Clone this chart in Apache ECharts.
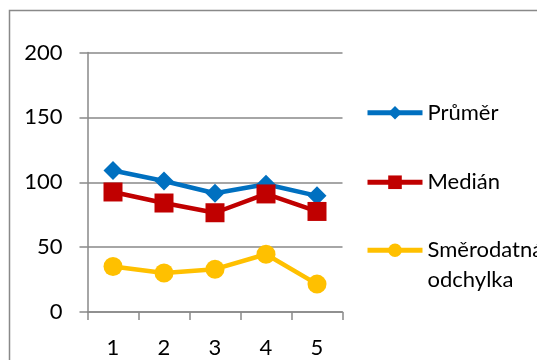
<!DOCTYPE html>
<html>
<head>
<meta charset="utf-8">
<script src="https://cdn.jsdelivr.net/npm/echarts@6/dist/echarts.min.js"></script>
<style>
  html, body { margin: 0; padding: 0; background: #fff; }
  #chart { width: 537px; height: 360px; }
</style>
</head>
<body>
<div id="chart"></div>
<script>
// Categories and series values
const categories = ['1', '2', '3', '4', '5'];
const prumer = [109, 101, 91.5, 98.5, 89.5];
const median = [92.5, 84, 76.5, 91, 77.5];
const smerodatna = [35, 30, 33, 44.5, 21.5];
const seriesNames = ['Průměr', 'Medián', 'Směrodatná odchylka'];

const FONT = 'Lato, "Open Sans", sans-serif';
const GRAY = '#898989';

const chart = echarts.init(document.getElementById('chart'), null, { renderer: 'canvas' });

function lineSeries(name, data, color, symbol, size) {
  return {
    name: name,
    type: 'line',
    data: data,
    symbol: symbol,
    symbolSize: size,
    showAllSymbol: true,
    lineStyle: { color: color, width: 4.5 },
    itemStyle: { color: color },
    emphasis: { disabled: true },
    animation: false
  };
}

// shared legend styling
const legendBase = {
  orient: 'vertical',
  left: 365,
  padding: 0,
  itemWidth: 55,
  itemHeight: 17,
  itemGap: 40,
  lineStyle: { width: 5 },
  selectedMode: false,
  textStyle: {
    fontFamily: FONT,
    fontSize: 22,
    color: '#000',
    lineHeight: 29.5
  }
};

chart.setOption({
  animation: false,
  backgroundColor: '#fff',
  graphic: [{
    type: 'rect',
    shape: { x: 9.5, y: 10.5, width: 600, height: 400 },
    style: { fill: 'none', stroke: GRAY, lineWidth: 1.5 },
    silent: true
  }],
  grid: { left: 87.5, right: 194.5, top: 52.5, bottom: 48, containLabel: false },
  legend: [
    Object.assign({}, legendBase, {
      top: 98,
      data: [seriesNames[0], seriesNames[1]]
    }),
    Object.assign({}, legendBase, {
      top: 206,
      data: [seriesNames[2]],
      // empty leading line keeps the first text line level with the icon
      formatter: function () { return ' \nSměrodatná\nodchylka'; }
    })
  ],
  xAxis: {
    type: 'category',
    data: categories,
    boundaryGap: true,
    axisLine: { show: true, lineStyle: { color: GRAY, width: 1.5 } },
    axisTick: { show: true, length: 8, alignWithLabel: false, lineStyle: { color: GRAY, width: 1.5 } },
    axisLabel: { fontFamily: FONT, fontSize: 22, color: '#000', margin: 25 },
    splitLine: { show: false }
  },
  yAxis: {
    type: 'value',
    min: 0,
    max: 200,
    interval: 50,
    axisLine: { show: true, lineStyle: { color: GRAY, width: 1.5 } },
    axisTick: { show: true, length: 8, lineStyle: { color: GRAY, width: 1.5 } },
    axisLabel: { fontFamily: FONT, fontSize: 22, color: '#000', margin: 25 },
    splitLine: { show: true, lineStyle: { color: GRAY, width: 1.5 } }
  },
  series: [
    lineSeries(seriesNames[0], prumer, '#0070C0', 'diamond', 19),
    lineSeries(seriesNames[1], median, '#C00000', 'rect', 19),
    lineSeries(seriesNames[2], smerodatna, '#FFC000', 'circle', 19)
  ]
});
</script>
</body>
</html>
